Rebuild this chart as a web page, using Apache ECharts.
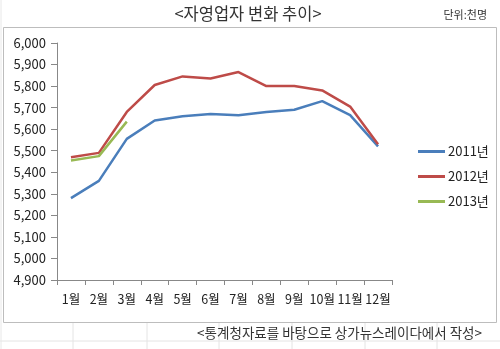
<!DOCTYPE html>
<html><head><meta charset="utf-8">
<script src="https://cdn.jsdelivr.net/npm/echarts@6/dist/echarts.min.js"></script>
<style>html,body{margin:0;padding:0;background:#fff}#c{width:500px;height:349px}</style>
</head><body><div id="c"></div>
<script>
const categories = ['1월','2월','3월','4월','5월','6월','7월','8월','9월','10월','11월','12월'];
const s2011 = [5280,5360,5555,5640,5660,5670,5665,5680,5690,5730,5665,5520];
const s2012 = [5470,5490,5680,5805,5845,5835,5865,5800,5800,5780,5705,5530];
const s2013 = [5455,5475,5635];
const seriesNames = ['2011년','2012년','2013년'];
const colors = ['#4a7ebb','#be4b48','#98b954'];
const title = '<자영업자 변화 추이>';
const unit = '단위:천명';
const source = '<통계청자료를 바탕으로 상가뉴스레이다에서 작성>';

const font = '"Noto Sans CJK KR","Noto Sans",sans-serif';
const chart = echarts.init(document.getElementById('c'), null, {renderer:'canvas'});
const gridLines = [];
[73,147,219,292,365,437].forEach(x=>gridLines.push({type:'line',shape:{x1:x,y1:323,x2:x,y2:349},style:{stroke:'#e4e4e4',lineWidth:1},silent:true}));
gridLines.push({type:'line',shape:{x1:0,y1:341,x2:500,y2:341},style:{stroke:'#e4e4e4',lineWidth:1},silent:true});
gridLines.push({type:'line',shape:{x1:1,y1:0,x2:1,y2:349},style:{stroke:'#e8e8e8',lineWidth:1},silent:true});
chart.setOption({
  animation:false,
  backgroundColor:'#fff',
  color:colors,
  graphic:gridLines.concat([
    {type:'rect',shape:{x:3.5,y:27.5,width:493,height:295},style:{fill:'none',stroke:'#bdbdbd',lineWidth:1},silent:true,z:-1},
    {type:'text',x:248,y:14,style:{text:title,fill:'#333',font:'16.5px '+font,textAlign:'center',textVerticalAlign:'middle'},silent:true},
    {type:'text',x:487,y:15,style:{text:unit,fill:'#333',font:'11px '+font,textAlign:'right',textVerticalAlign:'middle'},silent:true},
    {type:'text',x:482,y:333,style:{text:source,fill:'#333',font:'13.5px '+font,textAlign:'right',textVerticalAlign:'middle'},silent:true}
  ]),
  legend:{
    orient:'vertical',left:413,top:140,itemWidth:27,itemHeight:3,itemGap:12,
    icon:'rect',
    textStyle:{fontFamily:font,fontSize:13,color:'#222',padding:[0,0,0,-2]},
    data:seriesNames
  },
  grid:{left:57,right:108,top:43,bottom:69,containLabel:false},
  xAxis:{
    type:'category',data:categories,boundaryGap:true,
    axisLine:{lineStyle:{color:'#888'}},
    axisTick:{show:true,length:5,lineStyle:{color:'#888'}},
    axisLabel:{fontFamily:font,fontSize:12.5,color:'#222',margin:13,interval:0}
  },
  yAxis:{
    type:'value',min:4900,max:6000,interval:100,
    axisLine:{show:true,lineStyle:{color:'#888'}},
    axisTick:{show:true,inside:false,length:6,lineStyle:{color:'#888'}},
    splitLine:{show:false},
    axisLabel:{fontFamily:font,fontSize:13,color:'#222',margin:11,
      formatter:v=>v.toLocaleString('en-US')}
  },
  series:[
    {name:seriesNames[0],type:'line',data:s2011,symbol:'none',lineStyle:{width:2.5,color:colors[0]},itemStyle:{color:colors[0]}},
    {name:seriesNames[1],type:'line',data:s2012,symbol:'none',lineStyle:{width:2.5,color:colors[1]},itemStyle:{color:colors[1]}},
    {name:seriesNames[2],type:'line',data:s2013,symbol:'none',lineStyle:{width:2.5,color:colors[2]},itemStyle:{color:colors[2]}}
  ]
});
</script></body></html>
